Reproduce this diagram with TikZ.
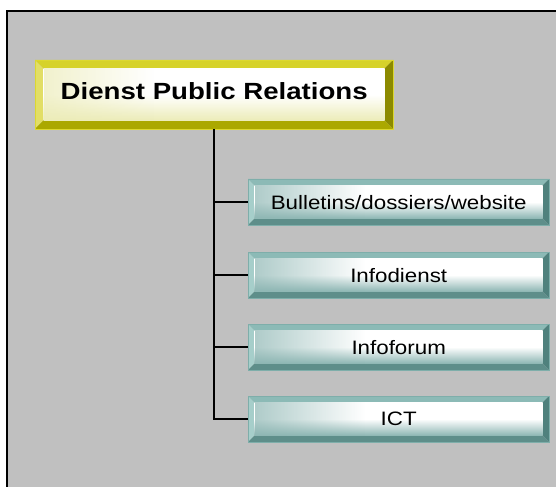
\documentclass[tikz,border=0pt]{standalone}
\usepackage{fontspec}
\usetikzlibrary{fadings}
\setmainfont{Liberation Sans}
\definecolor{bg}{HTML}{C0C0C0}
% yellow scheme
\definecolor{yT}{HTML}{D6D22A}
\definecolor{yL}{HTML}{E2DE66}
\definecolor{yR}{HTML}{8C8A00}
\definecolor{yB}{HTML}{ABA800}
\definecolor{yE}{HTML}{DCD830}
\definecolor{yF}{HTML}{ECECB8}
% teal scheme
\definecolor{tT}{HTML}{8CBAB6}
\definecolor{tL}{HTML}{A6CECA}
\definecolor{tR}{HTML}{4F817D}
\definecolor{tB}{HTML}{5E8E8A}
\definecolor{tE}{HTML}{7EAEAA}
\definecolor{tF}{HTML}{8DB6B3}
\tikzset{
  yface/.style={top color=white, bottom color=yF, middle color=white},
  tface/.style={top color=white, bottom color=tF, middle color=white},
  yfaceb/.style={fill=yF, path fading=east, fill opacity=0.7},
  tfaceb/.style={fill=tF, path fading=east, fill opacity=0.7},
  yedge/.style={draw=yE, line width=0.8bp},
  tedge/.style={draw=tE, line width=0.8bp},
  ytext/.style={font=\fontsize{23.5}{27}\selectfont\bfseries},
  ttext/.style={font=\fontsize{19.5}{23}\selectfont},
  conn/.style={draw=black, line width=2.2bp},
}
\newcommand\bevbox[8]{%
  \pgfmathsetmacro\bw{#4-#2}\pgfmathsetmacro\bh{#5-#3}%
  \fill[#7L] (#2,#3) -- (#2+#6,#3+#6) -- (#2+#6,#5-#6) -- (#2,#5) -- cycle;
  \fill[#7T] (#2,#3) -- (#4,#3) -- (#4-#6,#3+#6) -- (#2+#6,#3+#6) -- cycle;
  \fill[#7R] (#4,#3) -- (#4,#5) -- (#4-#6,#5-#6) -- (#4-#6,#3+#6) -- cycle;
  \fill[#7B] (#2,#5) -- (#4,#5) -- (#4-#6,#5-#6) -- (#2+#6,#5-#6) -- cycle;
  \shade[#7face] (#2+#6,#3+#6) rectangle (#4-#6,#5-#6);
  \fill[#7faceb] (#2+#6,#3+#6) rectangle (#2+#6+110,#5-#6);
  \draw[#7edge] (#2,#3) rectangle (#4,#5);
  \node[anchor=north west, inner sep=0pt, minimum width=\bw bp, minimum height=\bh bp, #7text] (#1) at (#2,#3) {#8};
}
\begin{document}
\begin{tikzpicture}[x=1bp,y=-1bp]
\useasboundingbox (0,0) rectangle (556,487);
\fill[white] (0,0) rectangle (556,487);
\fill[bg] (7,11) rectangle (556,487);
\draw[line width=2bp] (7,487) -- (7,11) -- (556,11);

\bevbox{main}{35}{60}{393}{129}{8.5}{y}{\raisebox{7.5bp}{\scalebox{1.18}[1]{Dienst Public Relations}}}
\bevbox{bul}{248}{179}{549}{225}{6.5}{t}{\scalebox{1.15}[1]{Bulletins/dossiers/website}}
\bevbox{info}{248}{252}{549}{298}{6.5}{t}{\scalebox{1.15}[1]{Infodienst}}
\bevbox{forum}{248}{324}{549}{370}{6.5}{t}{\scalebox{1.15}[1]{Infoforum}}
\bevbox{ict}{248}{396}{549}{442}{6.5}{t}{\scalebox{1.15}[1]{ICT}}

\draw[conn] (main.south) |- (ict.west);
\draw[conn] (main.south |- bul.west) -- (bul.west);
\draw[conn] (main.south |- info.west) -- (info.west);
\draw[conn] (main.south |- forum.west) -- (forum.west);
\end{tikzpicture}
\end{document}
